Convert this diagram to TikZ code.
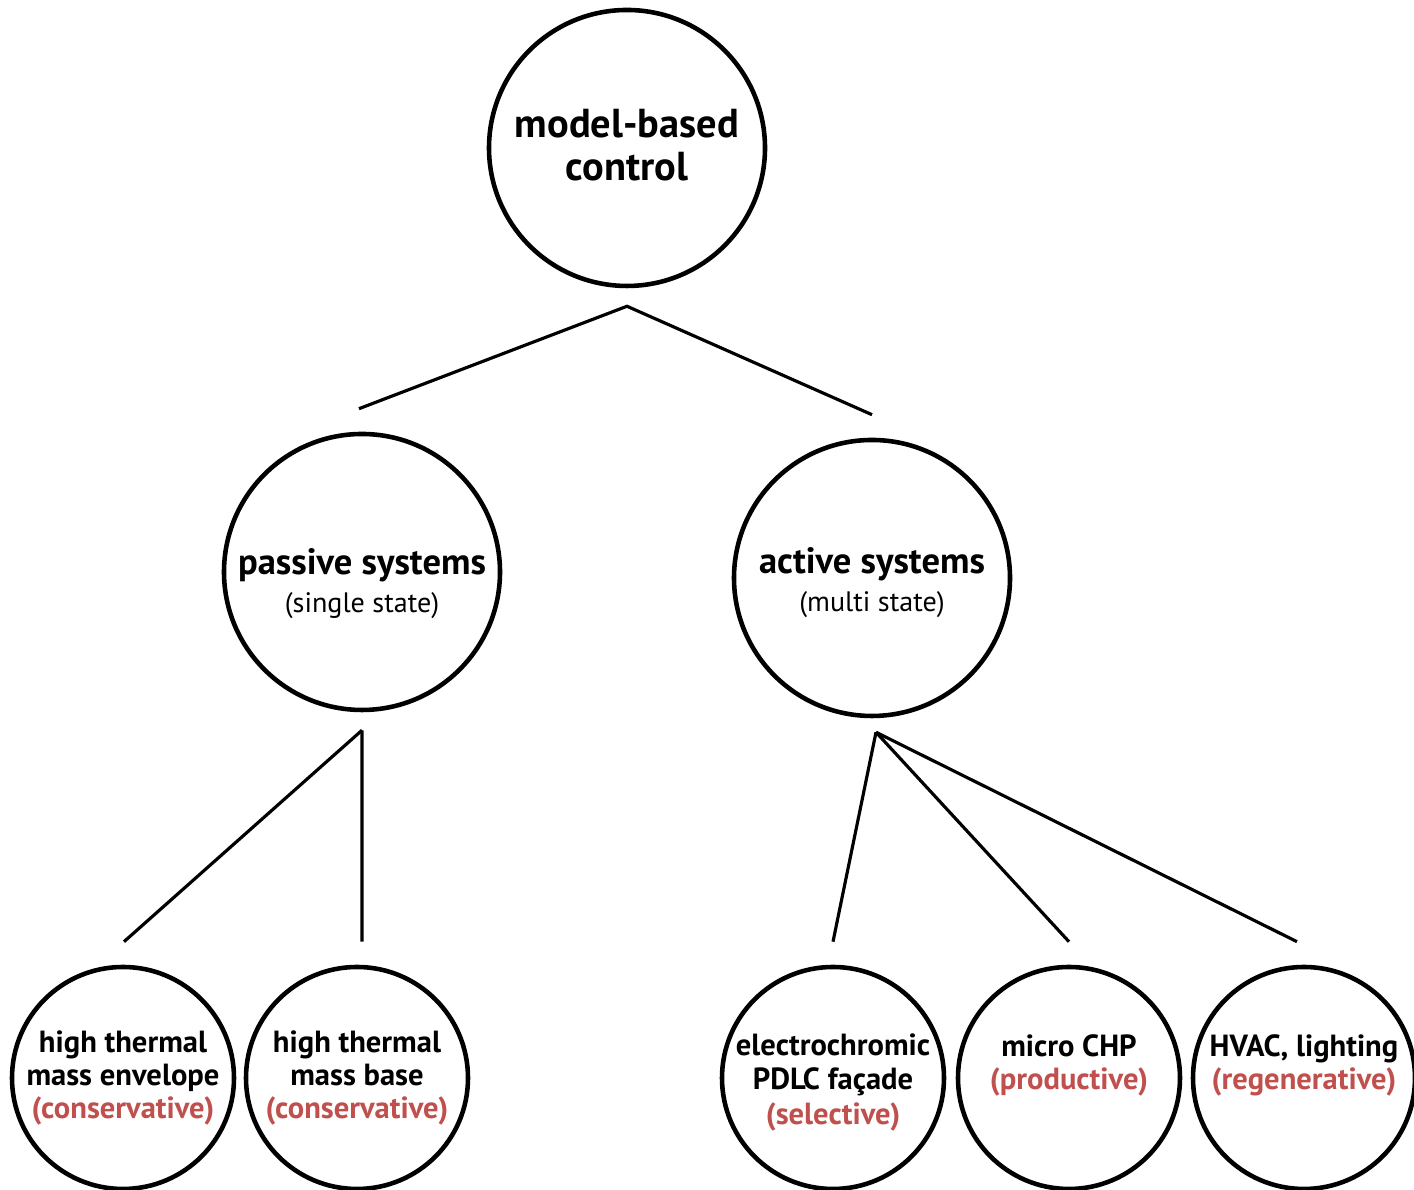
\documentclass[tikz,border=0pt]{standalone}
\usepackage{fontspec}
\setmainfont{PT Sans}
\usepackage{tikz}
\usetikzlibrary{positioning, calc}
\definecolor{consred}{RGB}{192,80,77}
\newcommand{\kind}[1]{\textcolor{consred}{#1}}
\newcommand{\headline}[1]{{\fontsize{10.4}{10.5}\selectfont\bfseries #1}}

\begin{document}
\begin{tikzpicture}[
    bubble/.style={circle, draw, line width=1.3pt, minimum size=2.76cm, inner sep=0pt, align=center,
      font=\fontsize{8}{10.6}\selectfont},
    leaf/.style={bubble, minimum size=2.22cm, font=\fontsize{8.7}{9.4}\selectfont\bfseries},
    branch/.style={line width=0.9pt}]
  \useasboundingbox (0,0) rectangle (14.14,11.90);
  % Baum : Regelung -> Systeme -> Anlagen
  \node[bubble, font=\fontsize{11.5}{12.2}\selectfont\bfseries] (mbc) at (6.27,10.42) {model-based\\control\rule[-1.7pt]{0pt}{0pt}};
  \node[bubble] (passive) at (3.62,6.18) {\rule{0pt}{14pt}\headline{passive systems}\\(single state)};
  \node[bubble] (active) at (8.72,6.12) {\rule{0pt}{10pt}\headline{active systems}\\(multi state)};

  \node[leaf] (envelope) at (1.23,1.12) {high thermal\\mass envelope\\\kind{(conservative)}};
  \node[leaf] (base) at (3.57,1.12) {high thermal\\mass base\\\kind{(conservative)}};
  \node[leaf] (facade) at (8.33,1.12) {\rule{0pt}{9pt}electrochromic\\PDLC façade\\[0.8pt]\kind{(selective)}};
  \node[leaf] (chp) at (10.69,1.12) {micro CHP\\\kind{(productive)}\\[-3pt]\strut};
  \node[leaf] (hvac) at (13.04,1.12) {HVAC, lighting\\\kind{(regenerative)}\\[-3pt]\strut};

  % Gabelpunkte
  \coordinate (forkmbc) at ([yshift=-0.18cm]mbc.south);
  \coordinate (forkpassive) at ([yshift=-0.18cm]passive.south);
  \coordinate (forkactive) at ([xshift=0.04cm, yshift=-0.14cm]active.south);
  \foreach \n/\dx in {passive/-0.03, active/0, envelope/0.01, base/0.05, facade/0, chp/0, hvac/-0.07}
    \coordinate (top-\n) at ([xshift=\dx cm, yshift=0.23cm]\n.north);

  \draw[branch] (top-passive) -- (forkmbc) -- (top-active);
  \foreach \n in {envelope, base}
    \draw[branch] (forkpassive) -- (top-\n);
  \foreach \n in {facade, chp, hvac}
    \draw[branch] (forkactive) -- (top-\n);
\end{tikzpicture}
\end{document}
